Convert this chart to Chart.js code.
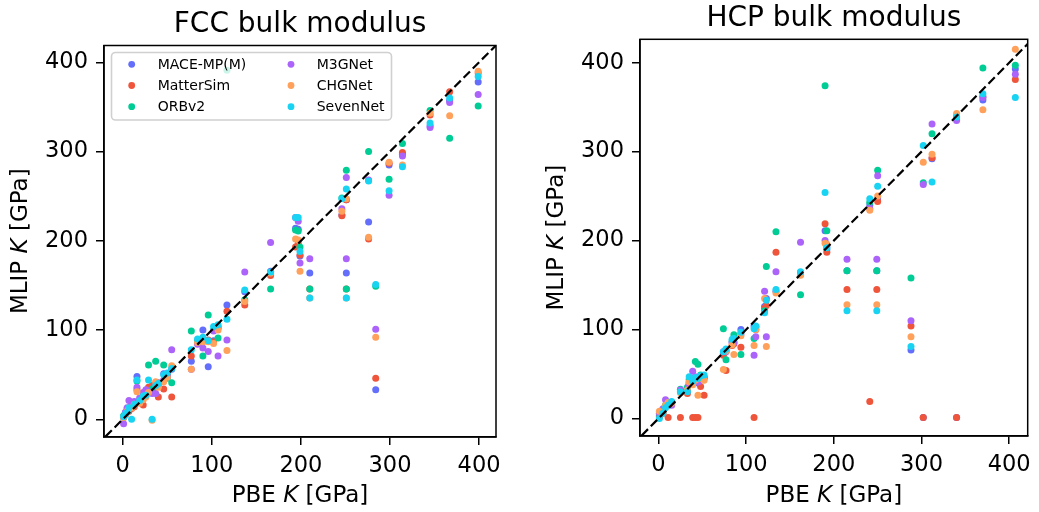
<!DOCTYPE html>
<html>
<head>
<meta charset="utf-8">
<script src="https://cdn.jsdelivr.net/npm/chart.js@4.4.0/dist/chart.umd.min.js"></script>
<style>
  body { margin: 0; background: #fff; }
  #wrap { position: relative; width: 1039px; height: 512px; }
  canvas { position: absolute; top: 0; }
</style>
</head>
<body>
<div id="wrap">
  <canvas id="fcc" width="520" height="512" style="left:0"></canvas>
  <canvas id="hcp" width="519" height="512" style="left:520px"></canvas>
</div>
<script>
const MODELS = ['MACE-MP(M)', 'MatterSim', 'ORBv2', 'M3GNet', 'CHGNet', 'SevenNet'];
const COLORS = ['#636efa', '#ef553b', '#00cc96', '#ab63fa', '#ffa15a', '#19d3f3'];
const TICKS = [0, 100, 200, 300, 400];

// FCC: PBE reference K and each model's prediction, one entry per material
const FCC_PBE = [1, 3, 5, 7, 10, 13, 16, 19, 23, 26, 29, 33, 37, 40, 46, 50, 55, 77, 84, 90,
  96, 102, 107, 117, 137, 166, 194, 197, 199, 210, 246, 251, 251, 276, 284, 299, 314, 345, 367, 399];
const FCC_MACE = [3, 6, 10, 11, 14, 16, 48, 20, 25, 28, 33, 36, 40, 41, 51, 50, 56, 65, 88, 100,
  59, 88, 104, 128, 143, 166, 214, 213, 183, 164, 229, 246, 164, 221, 33, 285, 297, 329, 357, 378];
const FCC_MATTERSIM = [2, 5, 8, 9, 12, 14, 33, 19, 16, 26, 36, 38, 36, 25, 34, 49, 25, 71, 86, 89,
  89, 87, 102, 121, 128, 161, 193, 197, 184, 146, 228, 246, 146, 202, 46, 287, 299, 341, 367, 388];
const FCC_ORB = [4, 7, 12, 13, 15, 18, 43, 21, 24, 27, 61, 34, 65, 40, 61, 46, 41, 99, 87, 71,
  117, 100, 91, 391, 134, 146, 212, 211, 193, 146, 248, 279, 146, 300, 149, 269, 309, 346, 315, 351];
const FCC_M3G = [-5, 8, 13, 21, 16, 20, 36, 24, 30, 33, 31, 29, 29, 39, 44, 48, 78, 56, 84, 80,
  76, 99, 71, 89, 165, 198, 226, 222, 175, 180, 236, 271, 180, 268, 101, 251, 295, 327, 355, 364];
const FCC_CHG = [2, 5, 9, 12, 13, 17, 31, 18, 22, 25, 30, -1, 42, 36, 42, 47, 60, 56, 86, 87,
  87, 85, 100, 77, 132, 164, 202, 201, 166, 136, 233, 247, 136, 204, 92, 288, 285, 343, 340, 390];
const FCC_SEVEN = [3, 6, 8, 13, 0, 17, 44, 21, 26, 27, 44, 0, 38, 40, 50, 52, 57, 78, 90, 92,
  88, 104, 106, 112, 145, 165, 226, 226, 188, 136, 247, 258, 136, 267, 151, 256, 283, 332, 360, 384];

// HCP
const HCP_PBE = [1, 5, 8, 11, 15, 25, 33, 35, 39, 42, 45, 48, 52, 74, 77, 84, 86, 94, 109, 111,
  121, 123, 134, 162, 190, 192, 215, 241, 249, 250, 288, 302, 312, 340, 370, 407];
const HCP_MACE = [3, 8, 14, 17, 18, 31, 30, 39, 42, 44, 40, 47, 46, 73, 76, 85, 86, 100, 104, 103,
  126, 135, 143, 164, 211, 190, 166, 240, 166, 247, 77, 1, 292, 1, 358, 393];
const HCP_MATTERSIM = [2, 6, 13, 1, 17, 1, 28, 41, 1, 1, 1, 36, 26, 71, 54, 82, 84, 80, 1, 100,
  124, 127, 187, 162, 219, 187, 145, 19, 145, 244, 104, 1, 293, 1, 362, 381];
const HCP_ORB = [5, 9, 15, 16, 17, 33, 35, 44, 45, 64, 61, 49, 47, 101, 66, 87, 94, 72, 90, 103,
  121, 171, 210, 139, 374, 211, 166, 243, 166, 279, 158, 265, 320, 340, 394, 397];
const HCP_M3G = [6, 11, 21, 18, 15, 32, 31, 38, 53, 47, 41, 46, 45, 75, 75, 86, 85, 95, 71, 92,
  143, 92, 165, 198, 200, 193, 179, 236, 179, 273, 110, 263, 331, 335, 361, 387];
const HCP_CHG = [8, 7, 15, 18, 17, 29, 32, 41, 38, 43, 26, 45, 43, 55, 76, 83, 72, 93, 82, 100,
  135, 81, 141, 161, 197, 196, 128, 234, 128, 250, 92, 288, 297, 343, 347, 415];
const HCP_SEVEN = [0, 6, 12, 15, 19, 30, 30, 47, 42, 46, 45, 48, 49, 75, 78, 89, 90, 97, 101, 104,
  119, 133, 145, 165, 254, 192, 121, 247, 121, 261, 81, 307, 266, 339, 365, 361];

const FONT = '"DejaVu Sans", sans-serif';

function points(xs, ys) {
  return xs.map((x, i) => ({ x: x, y: ys[i] }));
}

function axis(min, max, size, isX) {
  return {
    type: 'linear', min: min, max: max,
    afterBuildTicks: s => { s.ticks = TICKS.map(v => ({ value: v })); },
    afterFit: s => { if (isX) s.height = size; else s.width = size; },
    grid: { drawOnChartArea: false, drawTicks: true, tickLength: 8, color: '#000', lineWidth: 1.5 },
    border: { display: true, color: '#000', width: 1.5 },
    ticks: { font: { family: FONT, size: 22.5 }, color: '#000', padding: 8, maxRotation: 0 }
  };
}

// draws text made of plain/italic pieces, centred on x
function drawParts(ctx, parts, x, y, size) {
  let total = 0;
  parts.forEach(p => { ctx.font = (p[1] ? 'italic ' : '') + size + 'px ' + FONT; total += ctx.measureText(p[0]).width; });
  let cx = x - total / 2;
  ctx.textAlign = 'left';
  ctx.textBaseline = 'alphabetic';
  parts.forEach(p => {
    ctx.font = (p[1] ? 'italic ' : '') + size + 'px ' + FONT;
    ctx.fillText(p[0], cx, y);
    cx += ctx.measureText(p[0]).width;
  });
}

function drawLegend(ctx) {
  const bx = 111.5, by = 52.5, bw = 280, bh = 67.5, r = 4;
  ctx.save();
  ctx.beginPath();
  ctx.moveTo(bx + r, by);
  ctx.arcTo(bx + bw, by, bx + bw, by + bh, r);
  ctx.arcTo(bx + bw, by + bh, bx, by + bh, r);
  ctx.arcTo(bx, by + bh, bx, by, r);
  ctx.arcTo(bx, by, bx + bw, by, r);
  ctx.closePath();
  ctx.fillStyle = 'rgba(255,255,255,0.8)';
  ctx.fill();
  ctx.strokeStyle = '#d0d0d0';
  ctx.lineWidth = 1.6;
  ctx.stroke();
  ctx.font = '14px ' + FONT;
  ctx.textBaseline = 'middle';
  ctx.textAlign = 'left';
  MODELS.forEach((name, i) => {
    const col = Math.floor(i / 3), row = i % 3;
    const y = 64.3 + row * 21.2;
    ctx.fillStyle = COLORS[i];
    ctx.beginPath();
    ctx.arc(col ? 291 : 131.7, y, 3.4, 0, Math.PI * 2);
    ctx.fill();
    ctx.fillStyle = '#000';
    ctx.fillText(name, col ? 316.7 : 157.7, y + 1);
  });
  ctx.restore();
}

function makePanel(id, cfg) {
  const ys = cfg.ys;
  const datasets = MODELS.map((m, i) => ({
    type: 'scatter',
    label: m,
    data: points(cfg.xs, ys[i]),
    backgroundColor: COLORS[i],
    borderWidth: 0,
    pointRadius: 3.5,
    pointHoverRadius: 3.5,
    order: MODELS.length - i
  }));
  datasets.push({
    type: 'line',
    label: 'y = x',
    data: [{ x: -40, y: -40 }, { x: 460, y: 460 }],
    borderColor: '#000',
    borderWidth: 2.2,
    borderDash: [9, 4],
    pointRadius: 0,
    fill: false,
    order: 0
  });

  const textPlugin = {
    id: 'frameText',
    afterDraw(chart) {
      const ctx = chart.ctx, a = chart.chartArea;
      ctx.save();
      ctx.strokeStyle = '#000';
      ctx.lineWidth = 1.5;
      ctx.strokeRect(a.left, a.top, a.right - a.left, a.bottom - a.top);
      ctx.fillStyle = '#000';
      const cx = (a.left + a.right) / 2, cy = (a.top + a.bottom) / 2;
      drawParts(ctx, [[cfg.title, false]], cx, cfg.titleY, 28);
      drawParts(ctx, [['PBE ', false], ['K', true], [' [GPa]', false]], cx, cfg.xLabelY, 23);
      ctx.translate(cfg.yLabelX, cy);
      ctx.rotate(-Math.PI / 2);
      drawParts(ctx, [['MLIP ', false], ['K', true], [' [GPa]', false]], 0, 0, 23);
      ctx.restore();
      if (cfg.legend) drawLegend(ctx);
    }
  };

  new Chart(document.getElementById(id), {
    data: { datasets: datasets },
    options: {
      responsive: false,
      animation: false,
      devicePixelRatio: 1,
      layout: { padding: cfg.padding },
      plugins: { legend: { display: false }, tooltip: { enabled: false }, title: { display: false } },
      scales: {
        x: axis(cfg.xMin, cfg.xMax, cfg.xAxisH, true),
        y: axis(cfg.yMin, cfg.yMax, cfg.yAxisW, false)
      }
    },
    plugins: [textPlugin]
  });
}

makePanel('fcc', {
  xs: FCC_PBE,
  ys: [FCC_MACE, FCC_MATTERSIM, FCC_ORB, FCC_M3G, FCC_CHG, FCC_SEVEN],
  title: 'FCC bulk modulus', titleY: 32, xLabelY: 502, yLabelX: 27,
  xMin: -21, xMax: 419, yMin: -19.8, yMax: 418.8,
  padding: { left: 0, top: 45.5, right: 24, bottom: 0 },
  xAxisH: 75, yAxisW: 104, legend: true
});

makePanel('hcp', {
  xs: HCP_PBE,
  ys: [HCP_MACE, HCP_MATTERSIM, HCP_ORB, HCP_M3G, HCP_CHG, HCP_SEVEN],
  title: 'HCP bulk modulus', titleY: 26, xLabelY: 502, yLabelX: 43,
  xMin: -21.1, xMax: 421.1, yMin: -19.7, yMax: 426.3,
  padding: { left: 0, top: 39.3, right: 7, bottom: 0 },
  xAxisH: 76, yAxisW: 120, legend: false
});
</script>
</body>
</html>
